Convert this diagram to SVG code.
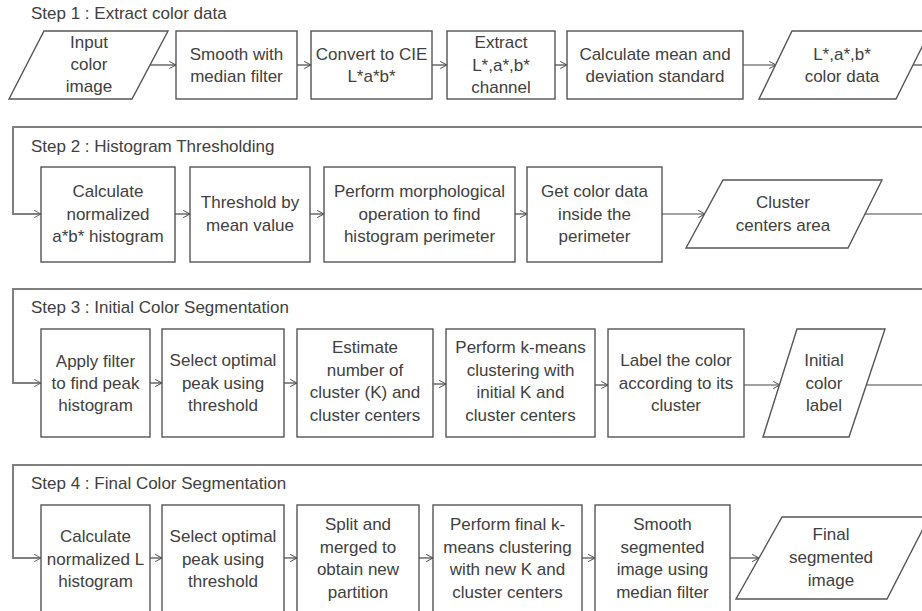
<svg xmlns="http://www.w3.org/2000/svg" width="922" height="611" viewBox="0 0 922 611">
<defs>
<style>
.bx{fill:#fff;stroke:#555;stroke-width:1.4}
.t{font-family:"Liberation Sans",Arial,sans-serif;font-size:17px;fill:#404040;text-anchor:middle}
.ti{font-family:"Liberation Sans",Arial,sans-serif;font-size:17px;fill:#404040}
.fl{fill:none;stroke:#444;stroke-width:1.2;marker-end:url(#ah)}
.ln{fill:none;stroke:#444;stroke-width:1.2}
.lp{fill:none;stroke:#7f7f7f;stroke-width:2;marker-end:url(#ahg)}
</style>
<marker id="ah" viewBox="0 0 10 10" refX="9.5" refY="5" markerWidth="8" markerHeight="10" markerUnits="userSpaceOnUse" orient="auto">
<path d="M1,0.5 L9.5,5 L1,9.5" fill="none" stroke="#444" stroke-width="1.2"/>
</marker>
<marker id="ahg" viewBox="0 0 10 10" refX="9.5" refY="5" markerWidth="8" markerHeight="10" markerUnits="userSpaceOnUse" orient="auto">
<path d="M1,0.5 L9.5,5 L1,9.5" fill="none" stroke="#666" stroke-width="1.2"/>
</marker>
</defs>
<rect width="922" height="611" fill="#fff"/>

<g id="titles">
<text class="ti" x="31" y="19">Step 1 : Extract color data</text>
<text class="ti" x="31" y="152">Step 2 : Histogram Thresholding</text>
<text class="ti" x="31" y="313">Step 3 : Initial Color Segmentation</text>
<text class="ti" x="31" y="489">Step 4 : Final Color Segmentation</text>
</g>

<g id="connectors">
<path class="fl" d="M150,65 H176"/>
<path class="fl" d="M297,65 H311"/>
<path class="fl" d="M432,65 H447"/>
<path class="fl" d="M555,65 H567"/>
<path class="fl" d="M743,65 H776"/>
<path class="ln" d="M913,65 H922"/>
<path class="lp" d="M922,127 H13 V214 H41"/>
<path class="fl" d="M175,214 H190"/>
<path class="fl" d="M310,214 H324"/>
<path class="fl" d="M515,214 H527"/>
<path class="fl" d="M662,214 H705"/>
<path class="ln" d="M865,214 H922"/>
<path class="lp" d="M922,289 H13 V383 H41"/>
<path class="fl" d="M150,383 H162"/>
<path class="fl" d="M284,383 H297"/>
<path class="fl" d="M433,384 H446"/>
<path class="fl" d="M595,385 H608"/>
<path class="fl" d="M744,385 H780"/>
<path class="ln" d="M866,385 H922"/>
<path class="lp" d="M922,465 H13 V558 H41"/>
<path class="fl" d="M150,558 H162"/>
<path class="fl" d="M284,558 H297"/>
<path class="fl" d="M419,558 H433"/>
<path class="fl" d="M582,558 H595"/>
<path class="fl" d="M730,558 H759"/>
</g>

<g id="input-image"><polygon class="bx" points="44,31 168,31 132,99 9,99"/>
<text class="t" x="89" y="48">Input</text><text class="t" x="89" y="70">color</text><text class="t" x="89" y="92">image</text></g>
<g id="smooth"><rect class="bx" x="176" y="31" width="121" height="68"/>
<text class="t" x="236.5" y="60">Smooth with</text><text class="t" x="236.5" y="82">median filter</text></g>
<g id="convert"><rect class="bx" x="311" y="31" width="121" height="68"/>
<text class="t" x="371.5" y="60">Convert to CIE</text><text class="t" x="371.5" y="82">L*a*b*</text></g>
<g id="extract"><rect class="bx" x="447" y="31" width="108" height="68"/>
<text class="t" x="501" y="48">Extract</text><text class="t" x="501" y="71">L*,a*,b*</text><text class="t" x="501" y="93">channel</text></g>
<g id="mean"><rect class="bx" x="567" y="31" width="176" height="68"/>
<text class="t" x="655" y="60">Calculate mean and</text><text class="t" x="655" y="82">deviation standard</text></g>
<g id="lab-data"><polygon class="bx" points="792,31 930,31 896,99 759,99"/>
<text class="t" x="842" y="60">L*,a*,b*</text><text class="t" x="842" y="82">color data</text></g>

<g id="norm-ab"><rect class="bx" x="41" y="167" width="134" height="95"/>
<text class="t" x="108" y="197">Calculate</text><text class="t" x="108" y="220">normalized</text><text class="t" x="108" y="242">a*b* histogram</text></g>
<g id="threshold"><rect class="bx" x="190" y="167" width="120" height="95"/>
<text class="t" x="250" y="208">Threshold by</text><text class="t" x="250" y="231">mean value</text></g>
<g id="morph"><rect class="bx" x="324" y="167" width="191" height="95"/>
<text class="t" x="419.5" y="197">Perform morphological</text><text class="t" x="419.5" y="220">operation to find</text><text class="t" x="419.5" y="242">histogram perimeter</text></g>
<g id="get-color"><rect class="bx" x="527" y="167" width="135" height="95"/>
<text class="t" x="594.5" y="197">Get color data</text><text class="t" x="594.5" y="220">inside the</text><text class="t" x="594.5" y="242">perimeter</text></g>
<g id="cluster-area"><polygon class="bx" points="723,180 882,180 848,248 686,248"/>
<text class="t" x="783" y="208">Cluster</text><text class="t" x="783" y="231">centers area</text></g>

<g id="peak-filter"><rect class="bx" x="41" y="329" width="109" height="108"/>
<text class="t" x="95.5" y="367">Apply filter</text><text class="t" x="95.5" y="389">to find peak</text><text class="t" x="95.5" y="411">histogram</text></g>
<g id="select-peak-1"><rect class="bx" x="162" y="329" width="122" height="108"/>
<text class="t" x="223" y="366">Select optimal</text><text class="t" x="223" y="389">peak using</text><text class="t" x="223" y="411">threshold</text></g>
<g id="estimate"><rect class="bx" x="297" y="329" width="136" height="108"/>
<text class="t" x="365" y="353">Estimate</text><text class="t" x="365" y="375.5">number of</text><text class="t" x="365" y="398">cluster (K) and</text><text class="t" x="365" y="420.5">cluster centers</text></g>
<g id="kmeans-1"><rect class="bx" x="446" y="329" width="149" height="108"/>
<text class="t" x="520.5" y="353">Perform k-means</text><text class="t" x="520.5" y="375.5">clustering with</text><text class="t" x="520.5" y="398">initial K and</text><text class="t" x="520.5" y="420.5">cluster centers</text></g>
<g id="label-color"><rect class="bx" x="608" y="329" width="136" height="108"/>
<text class="t" x="676" y="366">Label the color</text><text class="t" x="676" y="389">according to its</text><text class="t" x="676" y="411">cluster</text></g>
<g id="initial-label"><polygon class="bx" points="797,329 885,329 849,437 763,437"/>
<text class="t" x="824" y="366">Initial</text><text class="t" x="824" y="389">color</text><text class="t" x="824" y="411">label</text></g>

<g id="norm-l"><rect class="bx" x="41" y="505" width="109" height="125"/>
<text class="t" x="95.5" y="542">Calculate</text><text class="t" x="95.5" y="565">normalized L</text><text class="t" x="95.5" y="587">histogram</text></g>
<g id="select-peak-2"><rect class="bx" x="162" y="505" width="122" height="125"/>
<text class="t" x="223" y="542">Select optimal</text><text class="t" x="223" y="565">peak using</text><text class="t" x="223" y="587">threshold</text></g>
<g id="split-merge"><rect class="bx" x="297" y="505" width="122" height="125"/>
<text class="t" x="358" y="530">Split and</text><text class="t" x="358" y="553">merged to</text><text class="t" x="358" y="575">obtain new</text><text class="t" x="358" y="598">partition</text></g>
<g id="kmeans-final"><rect class="bx" x="433" y="505" width="149" height="125"/>
<text class="t" x="507.5" y="530">Perform final k-</text><text class="t" x="507.5" y="553">means clustering</text><text class="t" x="507.5" y="575">with new K and</text><text class="t" x="507.5" y="598">cluster centers</text></g>
<g id="smooth-seg"><rect class="bx" x="595" y="505" width="135" height="125"/>
<text class="t" x="662.5" y="530">Smooth</text><text class="t" x="662.5" y="553">segmented</text><text class="t" x="662.5" y="575">image using</text><text class="t" x="662.5" y="598">median filter</text></g>
<g id="final-image"><polygon class="bx" points="782,517 929,517 887,599 736,599"/>
<text class="t" x="831" y="540">Final</text><text class="t" x="831" y="563">segmented</text><text class="t" x="831" y="586">image</text></g>
</svg>
